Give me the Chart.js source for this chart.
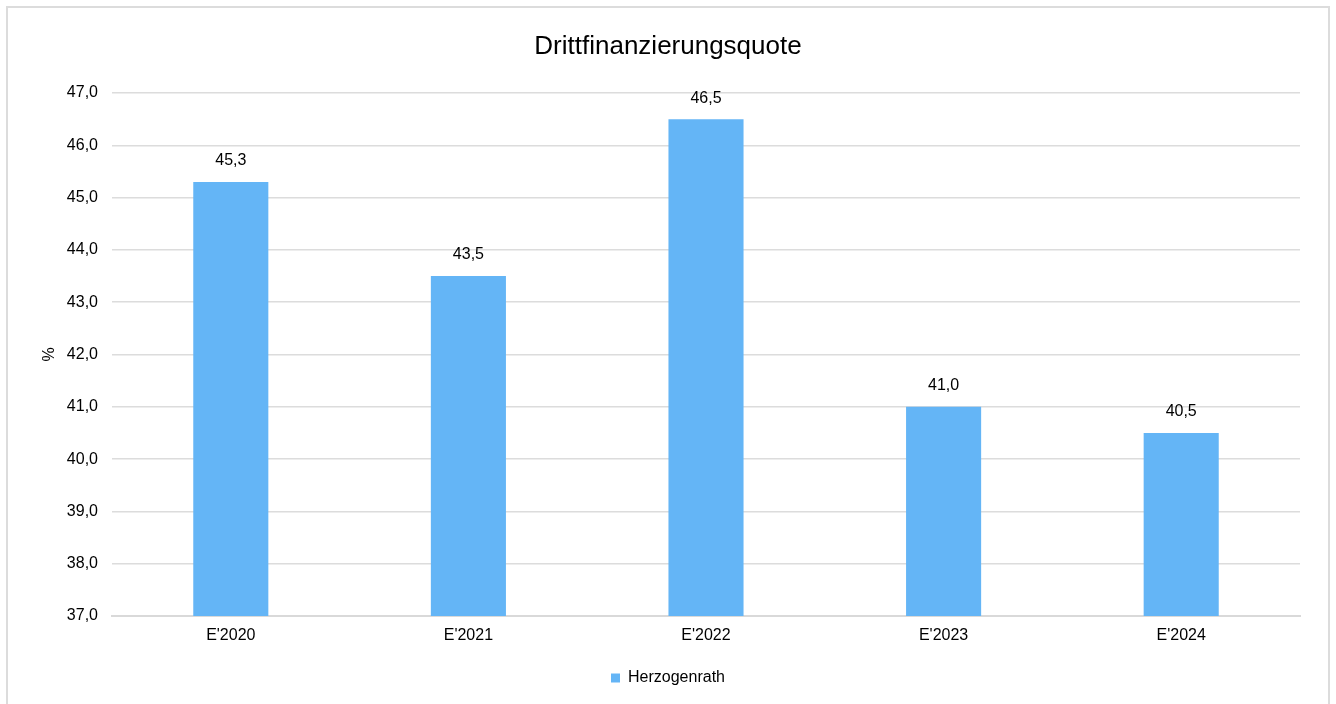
<!DOCTYPE html>
<html>
<head>
<meta charset="utf-8">
<script src="https://cdn.jsdelivr.net/npm/chart.js@4.4.1/dist/chart.umd.min.js"></script>
<style>
  html, body { margin: 0; padding: 0; background: #fff; overflow: hidden; }
  #frame { position: absolute; left: 6px; top: 6px; width: 1324px; height: 720px; border: 2px solid #dcdcdc; box-sizing: border-box; }
  #c { position: absolute; left: 0; top: 0; }
</style>
</head>
<body>
<div id="frame"></div>
<canvas id="c" width="1336" height="704"></canvas>
<script>
const categories = ["E'2020", "E'2021", "E'2022", "E'2023", "E'2024"];
const seriesName = "Herzogenrath";
const values = [45.3, 43.5, 46.5, 41.0, 40.5];
const yMin = 37, yMax = 47, yStep = 1;
const chartTitle = "Drittfinanzierungsquote";
const yAxisTitle = "%";

const fmt = v => v.toFixed(1).replace('.', ',');
const FONT = "'Liberation Sans', Arial, sans-serif";

const valueLabels = {
  id: 'valueLabels',
  afterDatasetsDraw(chart) {
    const ctx = chart.ctx;
    ctx.save();
    ctx.font = "16px " + FONT;
    ctx.fillStyle = '#000';
    ctx.textAlign = 'center';
    ctx.textBaseline = 'middle';
    chart.getDatasetMeta(0).data.forEach((bar, i) => {
      ctx.fillText(fmt(values[i]), bar.x, bar.y - 21);
    });
    ctx.restore();
  }
};

new Chart(document.getElementById('c'), {
  type: 'bar',
  data: {
    labels: categories,
    datasets: [{
      label: seriesName,
      data: values,
      backgroundColor: '#64b5f6',
      borderWidth: 0,
      barPercentage: 0.316,
      categoryPercentage: 1.0
    }]
  },
  options: {
    responsive: false,
    animation: false,
    devicePixelRatio: 1,
    layout: { padding: { left: 36, right: 36, top: 0, bottom: 8 } },
    plugins: {
      title: {
        display: true,
        text: chartTitle,
        color: '#000',
        font: { family: FONT, size: 26, weight: 'normal' },
        padding: { top: 31, bottom: 30.8 }
      },
      legend: {
        display: true,
        position: 'bottom',
        labels: {
          color: '#000',
          font: { family: FONT, size: 16 },
          boxWidth: 9,
          boxHeight: 9,
          padding: 10
        }
      },
      tooltip: { enabled: false }
    },
    scales: {
      x: {
        grid: { display: false, drawTicks: false },
        border: { display: true, color: '#d9d9d9', width: 2 },
        ticks: { color: '#000', font: { family: FONT, size: 16 }, padding: 10 },
        afterFit(scale) { scale.height = 44; }
      },
      y: {
        min: yMin,
        max: yMax,
        grid: { color: '#dcdcdc', lineWidth: 1.5, drawTicks: false },
        border: { display: false },
        ticks: {
          stepSize: yStep,
          color: '#000',
          font: { family: FONT, size: 16 },
          padding: 14,
          callback: v => fmt(v)
        },
        title: {
          display: true,
          text: yAxisTitle,
          color: '#000',
          font: { family: FONT, size: 16 },
          padding: 4
        },
        afterFit(scale) { scale.width = 76; }
      }
    }
  },
  plugins: [valueLabels]
});
</script>
</body>
</html>
